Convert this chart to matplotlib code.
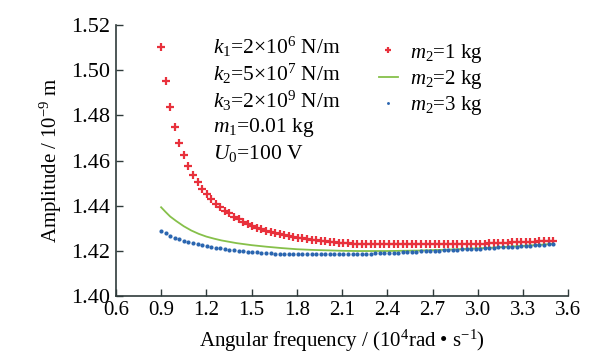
import matplotlib.pyplot as plt
import numpy as np

plt.rcParams['font.family'] = ['Liberation Serif', 'DejaVu Serif']
plt.rcParams['mathtext.fontset'] = 'custom'
plt.rcParams['mathtext.rm'] = 'Liberation Serif'
plt.rcParams['mathtext.it'] = 'Liberation Serif:italic'
plt.rcParams['font.size'] = 15

# sampled frequencies (10^4 rad/s) for the marker series
freq = np.linspace(0.9, 3.5, 87)

amp_m1kg = [
    1.5104, 1.4952, 1.4837, 1.4750, 1.4679, 1.4623, 1.4576, 1.4537, 1.4505, 1.4474,
    1.4450, 1.4428, 1.4407, 1.4393, 1.4378, 1.4366, 1.4351, 1.4339, 1.4329, 1.4317,
    1.4310, 1.4302, 1.4295, 1.4289, 1.4283, 1.4277, 1.4273, 1.4269, 1.4264, 1.4261,
    1.4258, 1.4256, 1.4253, 1.4250, 1.4247, 1.4244, 1.4242, 1.4240, 1.4238, 1.4236,
    1.4234, 1.4233, 1.4232, 1.4231, 1.4230, 1.4230, 1.4229, 1.4229, 1.4229, 1.4228,
    1.4228, 1.4228, 1.4228, 1.4228, 1.4228, 1.4228, 1.4228, 1.4228, 1.4228, 1.4228,
    1.4228, 1.4228, 1.4228, 1.4229, 1.4229, 1.4229, 1.4229, 1.4229, 1.4230, 1.4230,
    1.4231, 1.4232, 1.4233, 1.4233, 1.4234, 1.4235, 1.4236, 1.4237, 1.4238, 1.4239,
    1.4239, 1.4240, 1.4241, 1.4242, 1.4243, 1.4244, 1.4245,
]

amp_m3kg = [
    1.4288, 1.4278, 1.4267, 1.4258, 1.4251, 1.4244, 1.4239, 1.4235, 1.4229, 1.4225,
    1.4220, 1.4217, 1.4214, 1.4211, 1.4208, 1.4205, 1.4202, 1.4200, 1.4198, 1.4196,
    1.4194, 1.4193, 1.4191, 1.4190, 1.4189, 1.4188, 1.4187, 1.4187, 1.4186, 1.4186,
    1.4186, 1.4185, 1.4185, 1.4185, 1.4185, 1.4185, 1.4185, 1.4185, 1.4185, 1.4186,
    1.4186, 1.4186, 1.4187, 1.4187, 1.4187, 1.4188, 1.4188, 1.4189, 1.4189, 1.4190,
    1.4191, 1.4192, 1.4192, 1.4193, 1.4194, 1.4195, 1.4196, 1.4197, 1.4198, 1.4199,
    1.4200, 1.4201, 1.4202, 1.4203, 1.4204, 1.4205, 1.4206, 1.4207, 1.4208, 1.4209,
    1.4210, 1.4211, 1.4212, 1.4214, 1.4215, 1.4216, 1.4217, 1.4218, 1.4219, 1.4221,
    1.4222, 1.4223, 1.4224, 1.4225, 1.4226, 1.4228, 1.4229,
]

# the m2 = 2 kg curve is a continuous line
freq_line = [0.9, 0.93, 0.96, 1.0, 1.05, 1.1, 1.15, 1.2, 1.25, 1.3, 1.4, 1.5, 1.6,
             1.7, 1.8, 1.9, 2.0, 2.1, 2.2, 2.3, 2.4, 2.5, 2.6, 2.7, 2.8, 2.9, 3.0,
             3.1, 3.2, 3.3, 3.4, 3.5]
amp_m2kg = [1.4393, 1.4372, 1.4352, 1.4332, 1.4309, 1.4290, 1.4275, 1.4263, 1.4254,
            1.4246, 1.4234, 1.4225, 1.4218, 1.4212, 1.4207, 1.4204, 1.4202, 1.4200,
            1.4199, 1.4199, 1.4199, 1.4200, 1.4201, 1.4203, 1.4205, 1.4208, 1.4211,
            1.4214, 1.4218, 1.4222, 1.4226, 1.4231]

params = [r'$k_1$=2×10$^6$ N/m', r'$k_2$=5×10$^7$ N/m', r'$k_3$=2×10$^9$ N/m',
          r'$m_1$=0.01 kg', r'$U_0$=100 V']

red = '#e8313c'
green = '#86c04a'
blue = '#2b66b0'
axis_col = '#2f3b3b'

fig = plt.figure(figsize=(6.13, 3.64), dpi=100)
ax = fig.add_axes([0.189, 0.187, 0.738, 0.744])

ax.plot(freq, amp_m1kg, linestyle='none', marker='+', color=red, ms=5.5, mew=1.6,
        label=r'$m_2$=1 kg')
ax.plot(freq_line, amp_m2kg, color=green, lw=1.3, label=r'$m_2$=2 kg')
ax.plot(freq, amp_m3kg, linestyle='none', marker='o', color=blue, ms=3.0, mew=0,
        label=r'$m_2$=3 kg')

ax.set_xlim(0.6, 3.6)
ax.set_ylim(1.40, 1.52)
ax.set_xticks(np.arange(0.6, 3.61, 0.3))
ax.set_xticklabels([f'{v:.1f}' for v in np.arange(0.6, 3.61, 0.3)])
ax.set_yticks(np.arange(1.40, 1.521, 0.02))
ax.set_yticklabels([f'{v:.2f}' for v in np.arange(1.40, 1.521, 0.02)])
ax.tick_params(direction='in', length=5, width=1, color=axis_col)
ax.tick_params(axis='x', labelsize=15, pad=4)
ax.tick_params(axis='y', labelsize=16, pad=4)

for side in ['top', 'right']:
    ax.spines[side].set_visible(False)
for side in ['left', 'bottom']:
    ax.spines[side].set_color(axis_col)
    ax.spines[side].set_linewidth(1.2)

ax.set_xlabel(r'Angular frequency / (10$^4$rad • s$^{-1}$)', labelpad=5)
ax.set_ylabel(r'Amplitude / 10$^{-9}$ m', labelpad=5)

row_y = [0.920, 0.819, 0.720, 0.621, 0.527]
for txt, yy in zip(params, row_y):
    ax.text(0.215, yy, txt, transform=ax.transAxes, va='center', ha='left',
            fontsize=15.5)

ax.legend(loc='upper left', bbox_to_anchor=(0.545, 1.0), frameon=False,
          handlelength=0.9, handletextpad=0.6, labelspacing=0.15, borderpad=0.3,
          markerscale=0.7)

plt.savefig('out.png', dpi=100)
